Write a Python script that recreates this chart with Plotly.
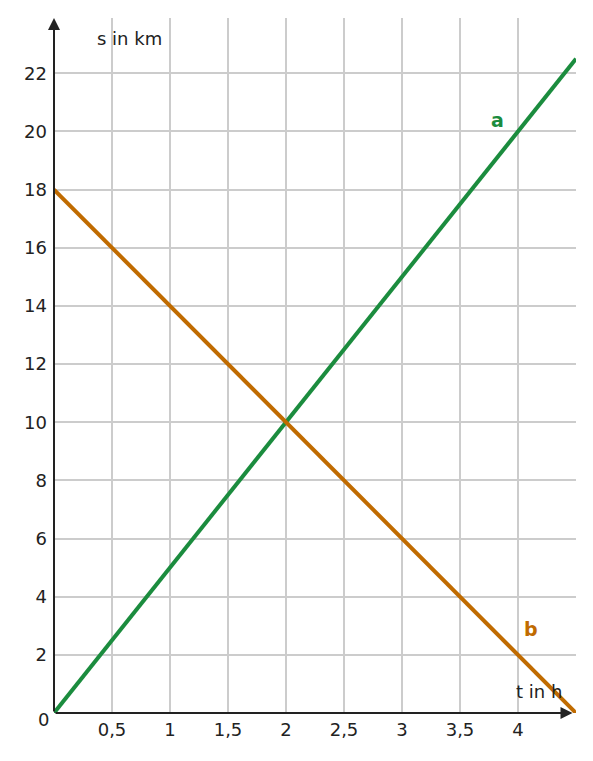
import plotly.graph_objects as go

t_a = [0, 4.5]
s_a = [0, 22.5]
t_b = [0, 4.5]
s_b = [18, 0]
x_ticks = [0.5, 1, 1.5, 2, 2.5, 3, 3.5, 4]
x_labels = ["0,5", "1", "1,5", "2", "2,5", "3", "3,5", "4"]
y_ticks = [2, 4, 6, 8, 10, 12, 14, 16, 18, 20, 22]
y_labels = [str(v) for v in y_ticks]

GREEN = "#1b8c3e"
ORANGE = "#c06b00"
fnt = dict(family="DejaVu Sans", size=18, color="#222")

fig = go.Figure()
fig.add_trace(go.Scatter(x=t_a, y=s_a, mode="lines", line=dict(color=GREEN, width=4)))
fig.add_trace(go.Scatter(x=t_b, y=s_b, mode="lines", line=dict(color=ORANGE, width=4)))

fig.update_layout(
    width=593, height=761, showlegend=False,
    margin=dict(l=46, r=25, t=10, b=56),
    plot_bgcolor="white", paper_bgcolor="white",
    font=fnt,
    xaxis=dict(range=[0, 4.5], tickvals=x_ticks, ticktext=x_labels, showgrid=True,
               gridcolor="#cccccc", gridwidth=1.5, zeroline=False, showline=False,
               ticks="", ticklabelstandoff=4),
    yaxis=dict(range=[0, 23.9], tickvals=y_ticks, ticktext=y_labels, showgrid=True,
               gridcolor="#cccccc", gridwidth=1.5, zeroline=False, showline=False,
               ticks="", ticklabelstandoff=6),
)
fig.add_annotation(x=0, y=23.9, ax=0, ay=0, xref="x", yref="y", axref="x", ayref="y",
                   showarrow=True, arrowhead=2, arrowsize=1.2, arrowwidth=2, arrowcolor="#222", text="")
fig.add_annotation(x=4.47, y=0, ax=0, ay=0, xref="x", yref="y", axref="x", ayref="y",
                   showarrow=True, arrowhead=2, arrowsize=1.2, arrowwidth=2, arrowcolor="#222", text="")
fig.add_annotation(x=0.35, y=23.2, text="s in km", showarrow=False, font=fnt, xanchor="left")
fig.add_annotation(x=4.4, y=0.75, text="t in h", showarrow=False, font=fnt, xanchor="right")
fig.add_annotation(x=-0.034, y=-0.027, xref="paper", yref="paper", text="0",
                   showarrow=False, font=fnt)
fig.add_annotation(x=3.82, y=20.4, text="<b>a</b>", showarrow=False,
                   font=dict(family="DejaVu Sans", size=19, color=GREEN))
fig.add_annotation(x=4.11, y=2.9, text="<b>b</b>", showarrow=False,
                   font=dict(family="DejaVu Sans", size=19, color=ORANGE))
fig.write_html("out.html")
